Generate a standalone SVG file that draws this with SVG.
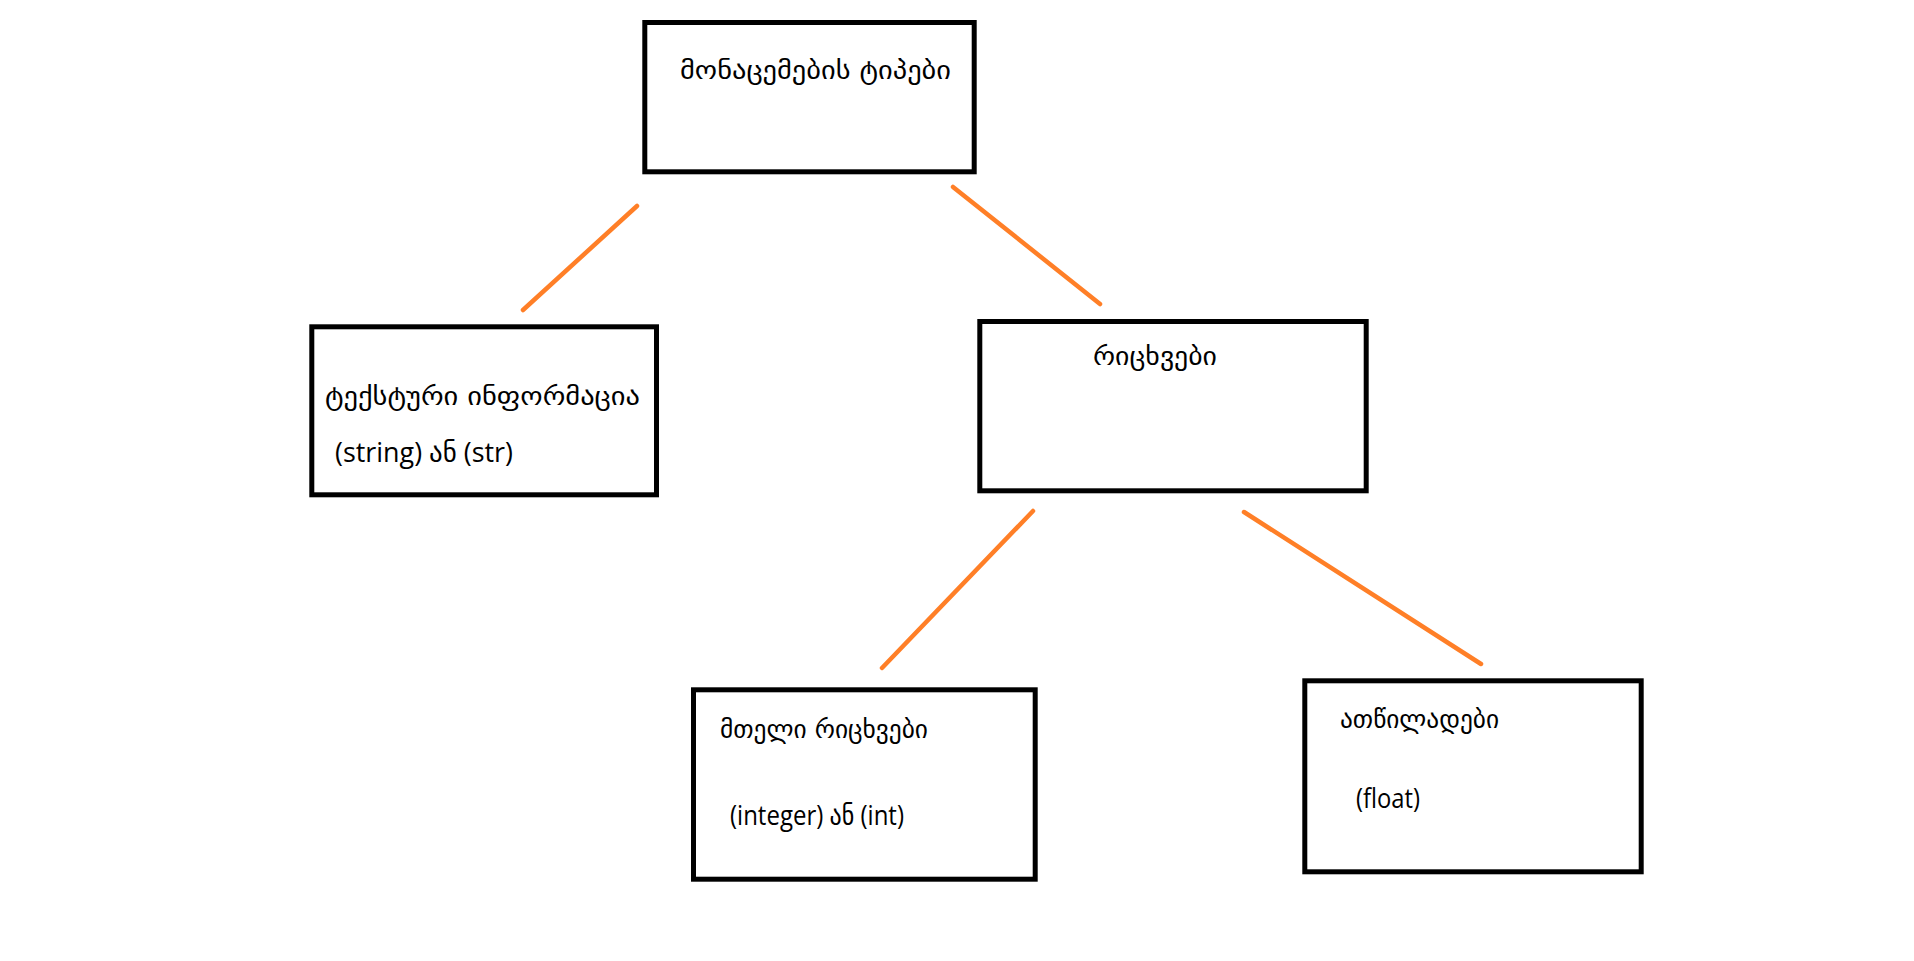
<svg xmlns="http://www.w3.org/2000/svg" width="1914" height="961" viewBox="0 0 1914 961">
<style>
.box{fill:#fff;stroke:#000;stroke-width:5}
.ln{stroke:#FF7F27;stroke-width:4.5;stroke-linecap:round;fill:none}
.ka{font-family:"DejaVu Sans",sans-serif;font-size:26px;fill:#000}
.mx{font-family:"Open Sans","DejaVu Sans",sans-serif;font-size:27px;fill:#000}
</style>
<rect width="1914" height="961" fill="#fff"/>
<g id="connectors">
<line class="ln" x1="637" y1="206" x2="523" y2="310"/>
<line class="ln" x1="953" y1="187" x2="1100" y2="304"/>
<line class="ln" x1="1033" y1="511" x2="882" y2="668"/>
<line class="ln" x1="1244" y1="512" x2="1481" y2="664"/>
</g>
<g id="node-root">
<rect class="box" x="644.8" y="22.5" width="329.4" height="149.3"/>
<text class="ka" x="680" y="79" textLength="271" lengthAdjust="spacingAndGlyphs">მონაცემების ტიპები</text>
</g>
<g id="node-text">
<rect class="box" x="311.8" y="326.8" width="344.7" height="168"/>
<text class="ka" x="325" y="405" textLength="315" lengthAdjust="spacingAndGlyphs">ტექსტური ინფორმაცია</text>
<text class="mx" x="335" y="462" textLength="178" lengthAdjust="spacingAndGlyphs">(string) ან (str)</text>
</g>
<g id="node-numbers">
<rect class="box" x="979.8" y="321.5" width="386.4" height="169.3"/>
<text class="ka" x="1093" y="365" textLength="124" lengthAdjust="spacingAndGlyphs">რიცხვები</text>
</g>
<g id="node-int">
<rect class="box" x="693.5" y="689.8" width="341.7" height="189.4"/>
<text class="ka" x="720" y="738" textLength="208" lengthAdjust="spacingAndGlyphs">მთელი რიცხვები</text>
<text class="mx" x="730" y="825" textLength="174" lengthAdjust="spacingAndGlyphs">(integer) ან (int)</text>
</g>
<g id="node-float">
<rect class="box" x="1304.8" y="680.8" width="336.4" height="191"/>
<text class="ka" x="1340" y="728" textLength="159" lengthAdjust="spacingAndGlyphs">ათწილადები</text>
<text class="mx" x="1356" y="808" textLength="64" lengthAdjust="spacingAndGlyphs">(float)</text>
</g>
</svg>
